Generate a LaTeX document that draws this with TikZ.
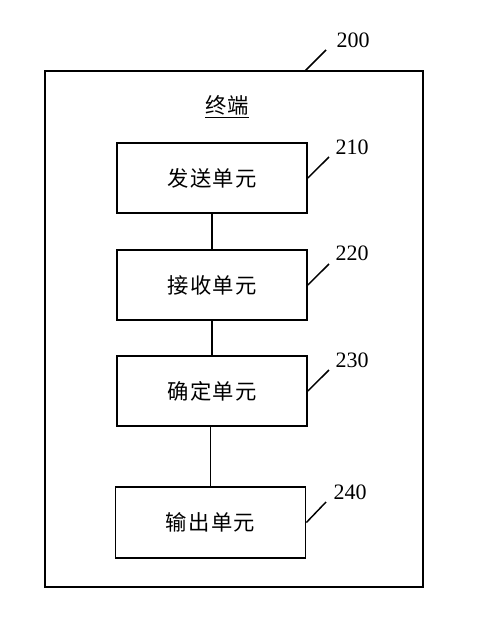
\documentclass[tikz,border=0pt]{standalone}
\usepackage{fontspec}
\setmainfont{Liberation Serif}
\newfontfamily\cjk{Noto Sans CJK SC}[LetterSpace=6]
\usetikzlibrary{positioning}

\tikzset{
  unit/.style={draw,line width=1.3pt,minimum width=142.5pt,minimum height=53pt,
    inner sep=0pt,font=\cjk\fontsize{16}{19}\selectfont},
  reflabel/.style={font=\fontsize{16.5}{19}\selectfont,inner sep=0pt},
  leader/.style={line width=1.1pt},
  link/.style={line width=1.1pt}
}

\begin{document}
\begin{tikzpicture}[x=0.75pt,y=-0.75pt]
    \useasboundingbox (0,0) rectangle (482,632);

    % terminal frame and title
    \node[draw,line width=1.4pt,minimum width=283.5pt,minimum height=387pt,inner sep=0pt] (term) at (234,329) {};
    \node[font=\cjk\fontsize{16}{19}\selectfont,inner sep=0pt] (title) at (227,107) {\underline{终端}};

    % units
    \node[unit] (send) at (212,178) {发送单元};
    \node[unit] (recv) at (212,285) {接收单元};
    \node[unit] (conf) at (212,391) {确定单元};
    \node[unit] (outp) at (210.5,522.5) {输出单元};

    \draw[link] (send) -- (recv);
    \draw[link] (recv) -- (conf);
    \draw[link] (conf.south -| outp) -- (outp);

    % reference numerals
    \node[reflabel] (n200) at (353,40) {200};
    \node[reflabel] (n210) at (352,147) {210};
    \node[reflabel] (n220) at (352,253) {220};
    \node[reflabel] (n230) at (352,360) {230};
    \node[reflabel] (n240) at (350,492) {240};

    \coordinate (t200) at (305,71);
    \coordinate (e200) at (326,50);
    \coordinate (e210) at (329,157);
    \coordinate (e220) at (329,264);
    \coordinate (e230) at (329,370);
    \coordinate (e240) at (326,502);

    \draw[leader] (t200) -- (e200);
    \draw[leader] (send.east) -- (e210);
    \draw[leader] (recv.east) -- (e220);
    \draw[leader] (conf.east) -- (e230);
    \draw[leader] (outp.east) -- (e240);
\end{tikzpicture}
\end{document}
